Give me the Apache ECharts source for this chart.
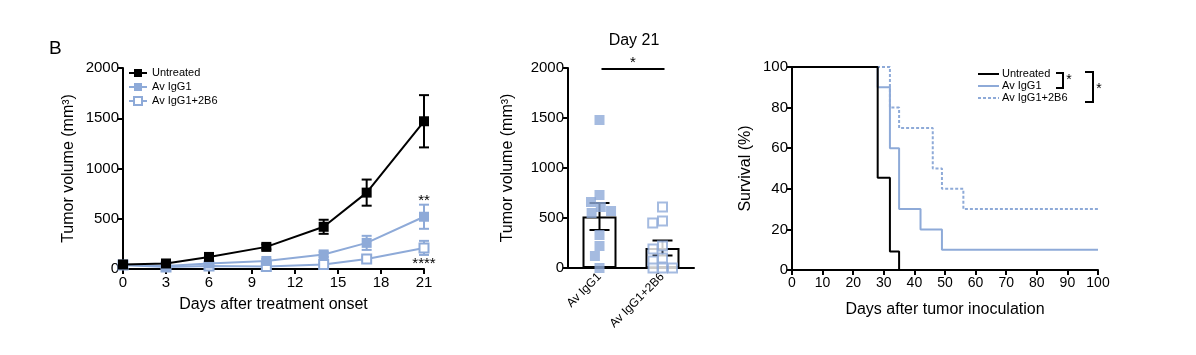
<!DOCTYPE html>
<html><head><meta charset="utf-8">
<script src="https://cdn.jsdelivr.net/npm/echarts@6/dist/echarts.min.js"></script>
<style>html,body{margin:0;padding:0;background:#fff}#c{width:1196px;height:355px}</style>
</head><body><div id="c"></div>
<script>
// ---- Panel 1: tumor growth ----
const days = [0, 3, 6, 10, 14, 17, 21];
const untreatedMean = [45, 55, 120, 220, 420, 760, 1470];
const untreatedSem = [10, 10, 20, 25, 70, 130, 260];
const avIgG1Mean = [40, 30, 55, 80, 145, 260, 520];
const avIgG1Sem = [5, 5, 10, 20, 25, 70, 120];
const avCombMean = [40, 20, 30, 25, 45, 100, 210];
const avCombSem = [5, 5, 5, 5, 10, 20, 70];
const seriesNames = ['Untreated', 'Av IgG1', 'Av IgG1+2B6'];

// ---- Panel 2: day 21 ----
const day21Groups = ['Av IgG1', 'Av IgG1+2B6'];
const day21Mean = [515, 200];
const day21Sem = [135, 75];
const avIgG1Day21 = [1480, 730, 660, 610, 570, 550, 330, 220, 120, 0];
const avCombDay21 = [610, 470, 450, 220, 190, 100, 70, 0, 0, 0];

// ---- Panel 3: survival ----
const untreatedSurv = [[0, 100], [28, 45.5], [32, 9.1], [35, 0]];
const avIgG1Surv = [[0, 100], [28, 90], [32, 60], [35, 30], [42, 20], [49, 10], [100, 10]];
const avCombSurv = [[0, 100], [32, 80], [35, 70], [46, 50], [49, 40], [56, 30], [100, 30]];

const BLUE = '#8eaad8';
const FONT = 'Liberation Sans, Arial, sans-serif';

function pts(xs, ys) { return xs.map((x, i) => [x, ys[i]]); }
function errs(xs, m, s) { return xs.map((x, i) => [x, m[i] - s[i], m[i] + s[i]]); }
function errRender(capHalf, color, width) {
  return function (params, api) {
    const x = api.value(0), lo = api.value(1), hi = api.value(2);
    const p1 = api.coord([x, hi]), p2 = api.coord([x, lo]);
    const st = { stroke: color, lineWidth: width };
    return { type: 'group', children: [
      { type: 'line', shape: { x1: p1[0], y1: p1[1], x2: p2[0], y2: p2[1] }, style: st },
      { type: 'line', shape: { x1: p1[0] - capHalf, y1: p1[1], x2: p1[0] + capHalf, y2: p1[1] }, style: st },
      { type: 'line', shape: { x1: p2[0] - capHalf, y1: p2[1], x2: p2[0] + capHalf, y2: p2[1] }, style: st }
    ]};
  };
}

const axisLine = { show: true, onZero: false, lineStyle: { color: '#000', width: 2 } };
const axisTick = { show: true, length: 5, lineStyle: { color: '#000', width: 2 } };
const plain = (v) => String(v);
const lbl = (fs) => ({ color: '#000', fontSize: fs, fontFamily: FONT, formatter: plain });
const nameStyle = { color: '#000', fontSize: 16, fontFamily: FONT };

const chart = echarts.init(document.getElementById('c'), null, { renderer: 'canvas' });

const option = {
  animation: false,
  backgroundColor: '#fff',
  textStyle: { fontFamily: FONT },
  title: [
    { text: 'B', left: 44, top: 34, textStyle: { fontSize: 19, fontWeight: 'normal', color: '#000', fontFamily: FONT } },
    { text: 'Day 21', left: 629, top: 28, textAlign: 'center', textStyle: { fontSize: 16, fontWeight: 'normal', color: '#000', fontFamily: FONT } }
  ],
  legend: {
    data: seriesNames, orient: 'vertical', left: 128, top: 67, padding: 0,
    itemWidth: 18, itemHeight: 10, itemGap: 2,
    textStyle: { fontSize: 11, color: '#000', fontFamily: FONT, lineHeight: 12 }
  },
  grid: [
    { left: 123, top: 68, width: 301, height: 201 },
    { left: 568, top: 68, width: 126, height: 200 },
    { left: 792, top: 67, width: 306, height: 203 }
  ],
  xAxis: [
    { gridIndex: 0, type: 'value', min: 0, max: 21, interval: 3, axisLine, axisTick, splitLine: { show: false },
      axisLabel: Object.assign(lbl(15), { margin: 6 }),
      name: 'Days after treatment onset', nameLocation: 'middle', nameGap: 28, nameTextStyle: nameStyle },
    { gridIndex: 1, type: 'category', data: day21Groups, axisLine, axisTick: { show: false },
      jitter: 30, jitterOverlap: false, jitterMargin: 1,
      axisLabel: { color: '#000', fontSize: 12, fontFamily: FONT, rotate: 45, margin: 7 } },
    { gridIndex: 2, type: 'value', min: 0, max: 100, interval: 10, axisLine, axisTick, splitLine: { show: false },
      axisLabel: Object.assign(lbl(14), { margin: 6 }),
      name: 'Days after tumor inoculation', nameLocation: 'middle', nameGap: 32, nameTextStyle: nameStyle }
  ],
  yAxis: [
    { gridIndex: 0, type: 'value', min: 0, max: 2000, interval: 500, axisLine, axisTick, splitLine: { show: false },
      axisLabel: Object.assign(lbl(15), { margin: 4 }),
      name: 'Tumor volume (mm³)', nameLocation: 'middle', nameGap: 46, nameTextStyle: nameStyle },
    { gridIndex: 1, type: 'value', min: 0, max: 2000, interval: 500, axisLine, axisTick, splitLine: { show: false },
      axisLabel: Object.assign(lbl(15), { margin: 4 }),
      name: 'Tumor volume (mm³)', nameLocation: 'middle', nameGap: 52, nameTextStyle: nameStyle },
    { gridIndex: 2, type: 'value', min: 0, max: 100, interval: 20, axisLine, axisTick, splitLine: { show: false },
      axisLabel: Object.assign(lbl(15), { margin: 4 }),
      name: 'Survival (%)', nameLocation: 'middle', nameGap: 38, nameTextStyle: nameStyle }
  ],
  series: [
    // panel 1 lines
    { name: seriesNames[2], type: 'line', xAxisIndex: 0, yAxisIndex: 0, data: pts(days, avCombMean), z: 3,
      symbol: 'rect', symbolSize: 9, lineStyle: { color: BLUE, width: 2 },
      itemStyle: { color: '#fff', borderColor: BLUE, borderWidth: 2 } },
    { name: seriesNames[1], type: 'line', xAxisIndex: 0, yAxisIndex: 0, data: pts(days, avIgG1Mean), z: 4,
      symbol: 'rect', symbolSize: 10, lineStyle: { color: BLUE, width: 2 },
      itemStyle: { color: BLUE } },
    { name: seriesNames[0], type: 'line', xAxisIndex: 0, yAxisIndex: 0, data: pts(days, untreatedMean), z: 5,
      symbol: 'rect', symbolSize: 10, lineStyle: { color: '#000', width: 2 },
      itemStyle: { color: '#000' } },
    { type: 'custom', xAxisIndex: 0, yAxisIndex: 0, data: errs(days, avCombMean, avCombSem), renderItem: errRender(5, BLUE, 2), z: 2 },
    { type: 'custom', xAxisIndex: 0, yAxisIndex: 0, data: errs(days, avIgG1Mean, avIgG1Sem), renderItem: errRender(5, BLUE, 2), z: 2 },
    { type: 'custom', xAxisIndex: 0, yAxisIndex: 0, data: errs(days, untreatedMean, untreatedSem), renderItem: errRender(5, '#000', 2), z: 2 },
    // panel 2
    { type: 'bar', xAxisIndex: 1, yAxisIndex: 1, data: day21Mean, barWidth: 34, z: 2,
      itemStyle: { color: '#fff', borderColor: '#000', borderWidth: 2 } },
    { type: 'custom', xAxisIndex: 1, yAxisIndex: 1, data: day21Groups.map((g, i) => [i, day21Mean[i] - day21Sem[i], day21Mean[i] + day21Sem[i]]),
      renderItem: errRender(10, '#000', 2), z: 3 },
    { type: 'scatter', xAxisIndex: 1, yAxisIndex: 1, data: avIgG1Day21.map(v => [0, v]), symbol: 'rect', symbolSize: 10, z: 4,
      itemStyle: { color: BLUE } },
    { type: 'scatter', xAxisIndex: 1, yAxisIndex: 1, data: avCombDay21.map(v => [1, v]), symbol: 'rect', symbolSize: 9, z: 4,
      itemStyle: { color: '#fff', borderColor: BLUE, borderWidth: 2 } },
    // panel 3
    { type: 'line', step: 'end', xAxisIndex: 2, yAxisIndex: 2, data: avCombSurv, symbol: 'none', z: 2,
      lineStyle: { color: BLUE, width: 2, type: [3, 2] } },
    { type: 'line', step: 'end', xAxisIndex: 2, yAxisIndex: 2, data: avIgG1Surv, symbol: 'none', z: 3,
      lineStyle: { color: BLUE, width: 2 } },
    { type: 'line', step: 'end', xAxisIndex: 2, yAxisIndex: 2, data: untreatedSurv, symbol: 'none', z: 4,
      lineStyle: { color: '#000', width: 2 } }
  ]
};
chart.setOption(option);

// annotations anchored to data
const p21a = chart.convertToPixel({ gridIndex: 0 }, [21, avIgG1Mean[6] + avIgG1Sem[6]]);
const p21b = chart.convertToPixel({ gridIndex: 0 }, [21, avCombMean[6] - avCombSem[6]]);
const b0 = chart.convertToPixel({ gridIndex: 1 }, [0, 2000]);
const b1 = chart.convertToPixel({ gridIndex: 1 }, [1, 2000]);
const starStyle = (x, y, t, fs) => ({ type: 'text', x, y, style: { text: t, fontSize: fs || 15, fill: '#000', fontFamily: FONT, align: 'center', verticalAlign: 'middle' } });

const lgX = 978, lgRows = [74, 86, 98];
chart.setOption({
  graphic: [
    starStyle(p21a[0], p21a[1] - 4, '**'),
    starStyle(p21b[0], p21b[1] + 9, '****'),
    { type: 'line', shape: { x1: b0[0] + 2, y1: b0[1] + 1, x2: b1[0] + 2, y2: b1[1] + 1 }, style: { stroke: '#000', lineWidth: 2 } },
    starStyle((b0[0] + b1[0]) / 2 + 2, b0[1] - 5, '*'),
    // survival legend
    { type: 'line', shape: { x1: lgX, y1: lgRows[0], x2: lgX + 21, y2: lgRows[0] }, style: { stroke: '#000', lineWidth: 2 } },
    { type: 'line', shape: { x1: lgX, y1: lgRows[1], x2: lgX + 21, y2: lgRows[1] }, style: { stroke: BLUE, lineWidth: 2 } },
    { type: 'line', shape: { x1: lgX, y1: lgRows[2], x2: lgX + 21, y2: lgRows[2] }, style: { stroke: BLUE, lineWidth: 2, lineDash: [3, 2] } },
    ...seriesNames.map((n, i) => ({ type: 'text', x: lgX + 24, y: lgRows[i], style: { text: n, fontSize: 11, fill: '#000', fontFamily: FONT, verticalAlign: 'middle' } })),
    { type: 'polyline', shape: { points: [[1056, 73], [1063, 73], [1063, 88], [1056, 88]] }, style: { stroke: '#000', lineWidth: 2, fill: null } },
    starStyle(1069, 80, '*', 14),
    { type: 'polyline', shape: { points: [[1085, 72], [1093, 72], [1093, 102], [1085, 102]] }, style: { stroke: '#000', lineWidth: 2, fill: null } },
    starStyle(1099, 89, '*', 14)
  ]
});
</script>
</body></html>
